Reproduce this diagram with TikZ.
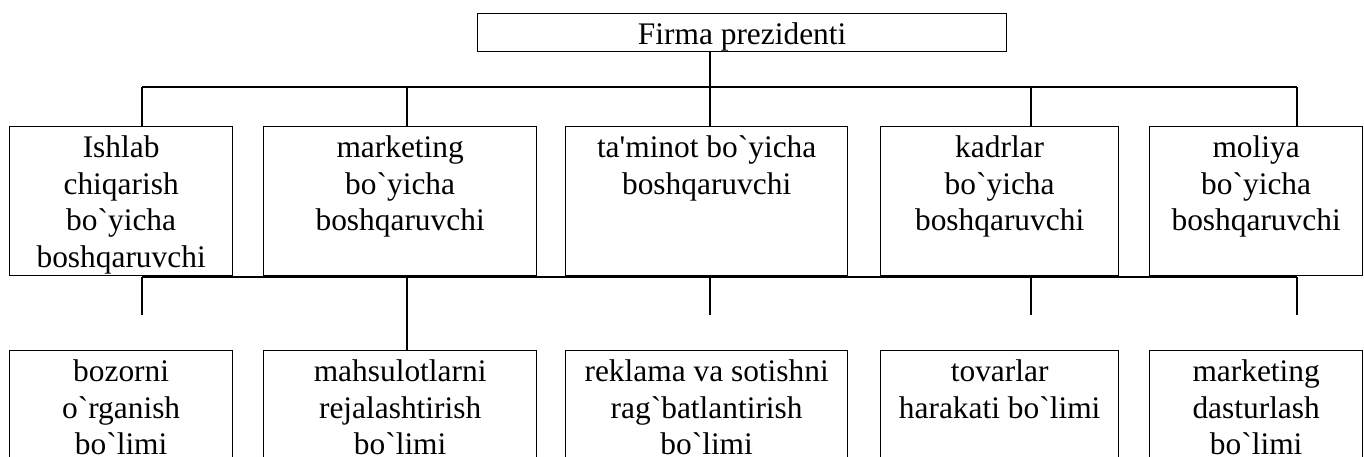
\documentclass[tikz,border=0pt]{standalone}
\usepackage{fontspec}
\setmainfont{Liberation Serif}[Ligatures=TeXOff]
\begin{document}
\begin{tikzpicture}[x=0.5pt,y=-0.5pt,
  unit/.style={draw,line width=0.65pt,inner sep=0pt,anchor=north west},
  caption/.style={align=center,anchor=north,inner sep=0pt,yshift=-4.8pt,
    font=\fontsize{15.7}{18.25}\selectfont},
  link/.style={line width=0.55pt}]
\useasboundingbox (0,0) rectangle (1364,456);
\clip (0,0) rectangle (1364,456);
\node [unit,minimum width=264.5pt,minimum height=19.15pt,
  label={[caption]north:{Firma prezidenti}}] (pres) at (477,12.7) {};
\node [unit,minimum width=111.5pt,minimum height=74.25pt,
  label={[caption]north:{Ishlab\\chiqarish\\bo`yicha\\boshqaruvchi}}] (m1) at (9,126) {};
\node [unit,minimum width=136.5pt,minimum height=74.25pt,
  label={[caption]north:{marketing\\bo`yicha\\boshqaruvchi}}] (m2) at (263,126) {};
\node [unit,minimum width=141pt,minimum height=74.25pt,
  label={[caption]north:{ta'minot bo`yicha\\boshqaruvchi}}] (m3) at (565,126) {};
\node [unit,minimum width=119pt,minimum height=74.25pt,
  label={[caption]north:{kadrlar\\bo`yicha\\boshqaruvchi}}] (m4) at (880,126) {};
\node [unit,minimum width=106.5pt,minimum height=74.25pt,
  label={[caption]north:{moliya\\bo`yicha\\boshqaruvchi}}] (m5) at (1149,126) {};
\node [unit,minimum width=111.5pt,minimum height=80pt,
  label={[caption]north:{bozorni\\o`rganish\\bo`limi}}] (d1) at (9,350) {};
\node [unit,minimum width=136.5pt,minimum height=80pt,
  label={[caption]north:{mahsulotlarni\\rejalashtirish\\bo`limi}}] (d2) at (263,350) {};
\node [unit,minimum width=141pt,minimum height=80pt,
  label={[caption]north:{reklama va sotishni\\rag`batlantirish\\bo`limi}}] (d3) at (565,350) {};
\node [unit,minimum width=119pt,minimum height=80pt,
  label={[caption]north:{tovarlar\\harakati bo`limi}}] (d4) at (880,350) {};
\node [unit,minimum width=106.5pt,minimum height=80pt,
  label={[caption]north:{marketing\\dasturlash\\bo`limi}}] (d5) at (1149,350) {};
\foreach \i/\x in {1/142,2/407,3/710,4/1031,5/1297} {
  \coordinate (u\i) at (\x,87);
  \coordinate (l\i) at (\x,277);
  \coordinate (e\i) at (\x,315);
}
\draw [link] (u3 |- pres.south) -- (u3);
\draw [link] (u1) -- (u5);
\draw [link] (l1) -- (l5);
\foreach \i in {1,...,5}
  \draw [link] (u\i) -- (u\i |- m\i.north);
\foreach \i in {1,3,4,5}
  \draw [link] (l\i) -- (e\i);
\draw [link] (l2) -- (l2 |- d2.north);
\end{tikzpicture}
\end{document}
